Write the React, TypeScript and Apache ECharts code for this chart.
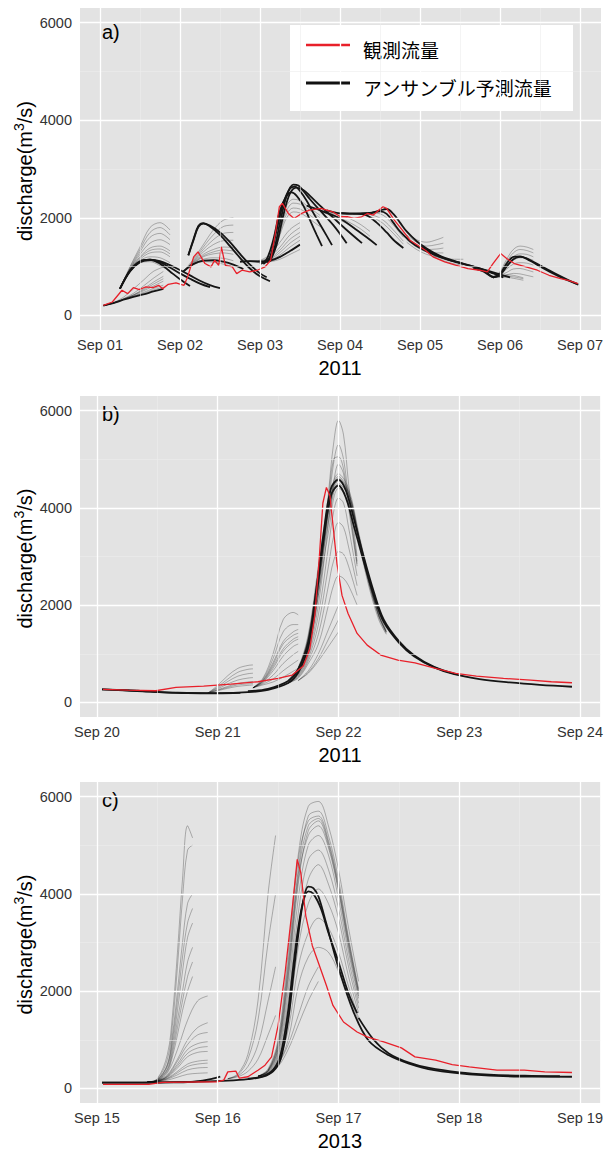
import React, { useEffect, useRef } from "react";
import * as echarts from "echarts";

// ---------------- axis / label data ----------------
const tickHoursA = [0, 24, 48, 72, 96, 120, 144];
const tickHoursBC = [0, 24, 48, 72, 96];
const minorHoursA = [12, 36, 60, 84, 108, 132];
const minorHoursBC = [12, 36, 60, 84];
const dayLabelsA = ["Sep 01", "Sep 02", "Sep 03", "Sep 04", "Sep 05", "Sep 06", "Sep 07"];
const dayLabelsB = ["Sep 20", "Sep 21", "Sep 22", "Sep 23", "Sep 24"];
const dayLabelsC = ["Sep 15", "Sep 16", "Sep 17", "Sep 18", "Sep 19"];
const yTicks = [0, 2000, 4000, 6000];
const yMinorTicks = [1000, 3000, 5000];
const yearLabels = ["2011", "2011", "2013"];
const panelTags = ["a)", "b)", "c)"];
const legendNames = ["観測流量", "アンサンブル予測流量"];

type Ens = { h: number[]; m: number[][] };

// ---------------- panel a (hours since Sep 01 00:00, 2011) ----------------
const obsA: number[][] = [
  [1, 205], [3.7, 274], [6.6, 514], [8.3, 445], [10, 568], [11.8, 527], [13.6, 582], [15.9, 568],
  [17.6, 616], [18.8, 548], [20.5, 637], [22.8, 664], [25.2, 616], [26.3, 788], [28.1, 1199],
  [29.4, 1301], [31.5, 1062], [33.3, 993], [34.4, 1130], [35.6, 1027], [36.4, 1404], [37.6, 1027],
  [39.7, 993], [41, 856], [42.6, 925], [44.9, 890], [47.2, 925], [49.5, 993], [51.2, 1130],
  [52.6, 1678], [53.8, 2226], [54.7, 2295], [56.5, 2089], [58.2, 1986], [60.5, 2089], [62.8, 2158],
  [66.3, 2192], [69.8, 2123], [72.1, 2021], [74.4, 2021], [76.2, 1986], [78.5, 2021], [80.2, 2089],
  [82, 2055], [83.7, 2158], [84.9, 2226], [86, 2192], [88.3, 1952], [90.7, 1747], [93, 1541],
  [95.3, 1438], [97.6, 1336], [99.9, 1199], [103.4, 1096], [106.9, 1027], [110.4, 959],
  [113.9, 925], [116.2, 890], [117.9, 1062], [120.2, 1267], [122, 1164], [124.3, 1062],
  [127.8, 993], [131.2, 925], [134.7, 822], [138.2, 753], [140.5, 719], [143.4, 651],
];

const blackA: number[][][] = [
  [[1, 200], [4, 250], [7, 320], [10, 380], [13, 430], [16, 490], [19, 545]],
  [[6, 548], [9, 920], [12, 1110], [15, 1140], [18, 1060], [21, 900], [24, 740], [27, 600]],
  [[6, 548], [9, 910], [12, 1100], [15, 1140], [18, 1090], [21, 980], [24, 860], [27, 750], [30, 650], [33, 577]],
  [[6, 548], [9, 900], [12, 1090], [15, 1135], [18, 1110], [21, 1030], [24, 930], [27, 820], [30, 710], [33, 620], [36, 557]],
  [[26.5, 1230], [28, 1550], [29.5, 1830], [31, 1890], [33, 1820], [36, 1650], [39, 1420], [42, 1180], [45, 960], [48, 800], [51, 700]],
  [[26.5, 1230], [28, 1530], [29.5, 1810], [31, 1880], [33, 1840], [36, 1700], [39, 1500], [42, 1260], [45, 1040], [48, 860], [50, 780]],
  [[25, 900], [28, 1050], [31, 1120], [34, 1130], [37, 1100], [40, 1040], [43, 950]],
  [[42, 1100], [45, 1110], [48, 1100], [51, 1120], [54, 1200], [57, 1320], [60, 1450]],
  [[48, 1050], [50, 1150], [52, 1550], [54, 2150], [56, 2450], [57.5, 2520], [59, 2450], [61, 2250], [63, 1950], [65, 1650], [66.6, 1420]],
  [[49, 1050], [51, 1200], [53, 1750], [55, 2300], [57, 2600], [58.5, 2640], [60, 2550], [62, 2350], [64, 2100], [67, 1750], [69.6, 1440]],
  [[50, 1080], [52, 1300], [54, 1900], [56, 2450], [58, 2680], [59.5, 2660], [61, 2550], [63, 2380], [66, 2150], [70, 1850], [74, 1480]],
  [[51, 1100], [53, 1450], [55, 2050], [57, 2500], [59, 2620], [61, 2570], [63, 2450], [66, 2250], [70, 2000], [74, 1750], [78.6, 1480]],
  [[62, 2250], [65, 2180], [68, 2100], [71, 2020], [74, 1900], [77, 1750], [80, 1600], [83, 1440]],
  [[68, 2150], [71, 2100], [74, 2080], [77, 2080], [80, 2050], [83, 1900], [86, 1700], [88, 1550], [91, 1380]],
  [[72, 2100], [75, 2090], [78, 2090], [81, 2100], [84, 2130], [86, 2080], [88, 1900], [90, 1720], [93, 1520], [96, 1380], [100, 1250], [104, 1150], [108, 1080]],
  [[78, 2080], [81, 2090], [84, 2150], [86, 2180], [88, 2080], [90, 1900], [92, 1720], [95, 1520], [98, 1370], [102, 1220], [106, 1120], [110, 1040], [114, 960], [118, 860], [121, 780]],
  [[96, 1420], [100, 1270], [104, 1150], [108, 1070], [112, 1000], [116, 920], [120, 840], [123, 780]],
  [[112, 970], [115, 900], [118, 790], [120, 850], [122, 1060], [124, 1200], [126, 1210], [129, 1120], [132, 1000], [135, 890], [138, 790], [141, 700], [143.5, 630]],
  [[116, 900], [118, 780], [120, 830], [122, 1000], [124, 1150], [126, 1200], [128, 1170], [131, 1060], [134, 950], [137, 840], [140, 740], [143, 650]],
];

const ensA: Ens[] = [
  { h: [1, 4, 7, 10, 13, 16, 19], m: [
    [200, 255, 340, 450, 600, 760, 900], [200, 255, 335, 420, 540, 680, 800], [200, 252, 330, 410, 500, 600, 700],
    [200, 250, 325, 395, 470, 550, 620], [200, 262, 370, 540, 720, 900, 990], [200, 250, 322, 388, 450, 520, 580],
    [200, 253, 332, 415, 520, 640, 750]] },
  { h: [6, 9, 12, 15, 18, 21], m: [
    [548, 1000, 1400, 1800, 1900, 1750], [548, 980, 1350, 1700, 1800, 1650], [548, 960, 1300, 1600, 1680, 1550],
    [548, 950, 1250, 1480, 1550, 1450], [548, 940, 1200, 1380, 1420, 1320], [548, 930, 1150, 1280, 1300, 1200],
    [548, 920, 1120, 1200, 1180, 1080], [548, 910, 1100, 1150, 1100, 980], [548, 900, 1080, 1100, 1020, 900],
    [548, 935, 1180, 1330, 1360, 1260]] },
  { h: [25, 28, 31, 34, 37, 40], m: [
    [900, 1150, 1450, 1750, 1950, 2000], [900, 1120, 1400, 1650, 1820, 1850], [900, 1100, 1350, 1550, 1680, 1700],
    [900, 1090, 1300, 1450, 1530, 1540], [900, 1080, 1250, 1350, 1400, 1390], [900, 1060, 1200, 1260, 1280, 1250],
    [900, 1050, 1150, 1180, 1170, 1120], [900, 1040, 1100, 1090, 1050, 1000], [900, 1070, 1220, 1300, 1340, 1320]] },
  { h: [42, 45, 48, 51, 54, 57, 60], m: [
    [1100, 1110, 1120, 1200, 1400, 1650, 1800], [1100, 1110, 1115, 1170, 1340, 1560, 1700],
    [1100, 1110, 1110, 1150, 1290, 1480, 1620], [1100, 1108, 1100, 1130, 1240, 1400, 1540],
    [1100, 1105, 1095, 1110, 1190, 1320, 1450], [1100, 1110, 1130, 1250, 1500, 1760, 1900],
    [1100, 1100, 1090, 1100, 1150, 1250, 1350]] },
  { h: [50, 52, 54, 56, 58, 60, 62, 64, 66], m: [
    [1100, 1300, 1750, 2150, 2300, 2280, 2200, 2100, 2000], [1100, 1280, 1700, 2080, 2200, 2180, 2100, 2000, 1900],
    [1100, 1260, 1650, 2000, 2120, 2100, 2020, 1920, 1820], [1100, 1350, 1850, 2250, 2380, 2350, 2250, 2150, 2050]] },
  { h: [66, 69, 72, 75, 78, 81], m: [
    [2150, 2050, 1950, 1850, 1700, 1550], [2150, 2080, 2000, 1900, 1780, 1620], [2150, 2100, 2050, 1980, 1870, 1720]] },
  { h: [76, 79, 82, 85, 88, 91], m: [
    [2080, 2080, 2050, 1950, 1750, 1520], [2080, 2060, 2000, 1880, 1680, 1460], [2080, 2100, 2100, 2050, 1850, 1600]] },
  { h: [92, 95, 98, 101, 103], m: [
    [1700, 1550, 1500, 1550, 1600], [1650, 1500, 1420, 1450, 1480], [1600, 1450, 1350, 1360, 1380],
    [1550, 1400, 1300, 1280, 1280], [1500, 1350, 1250, 1200, 1190]] },
  { h: [100, 103, 106, 109], m: [
    [1250, 1180, 1150, 1150], [1230, 1150, 1100, 1080], [1200, 1120, 1060, 1030]] },
  { h: [118, 120, 122, 124, 126, 128, 130], m: [
    [770, 900, 1150, 1350, 1420, 1400, 1350], [770, 880, 1100, 1280, 1350, 1330, 1280],
    [770, 860, 1050, 1200, 1260, 1250, 1200], [770, 850, 1000, 1130, 1180, 1170, 1130],
    [770, 840, 950, 1050, 1080, 1070, 1030], [770, 820, 880, 950, 960, 930, 890], [770, 800, 830, 860, 850, 820, 790]] },
  { h: [116, 118, 120, 122, 124, 127], m: [
    [880, 800, 790, 800, 790, 750], [880, 800, 800, 830, 820, 770], [880, 790, 780, 780, 760, 720]] },
];

// ---------------- panel b (hours since Sep 20 00:00, 2011) ----------------
const obsB: number[][] = [
  [1.2, 267], [6.2, 253], [11.7, 240], [15.7, 308], [21.2, 336], [26.6, 377], [32, 425], [36, 493],
  [38.8, 562], [41, 750], [42.3, 1100], [43.3, 1800], [44.2, 3000], [44.9, 4100], [45.6, 4420],
  [46.3, 4250], [47, 3550], [47.7, 2850], [48.7, 2200], [49.9, 1829], [51.7, 1418], [53.7, 1178],
  [56.4, 973], [59.8, 870], [63.2, 815], [67.3, 699], [71.3, 596], [75.4, 541], [80.8, 493],
  [86.2, 459], [90.3, 425], [94.4, 404],
];

const blackB: number[][][] = [
  [[1, 267], [6, 250], [12, 215], [18, 190], [24, 185], [28.5, 195]],
  [[1, 267], [8, 235], [16, 200], [24, 190], [30, 210], [34, 260], [38, 400], [40, 620], [42, 1150], [43.5, 2100], [45, 3300], [46.5, 4250], [48, 4460], [49.5, 4200], [51, 3650], [53, 2900], [55, 2200], [57, 1650], [60, 1230], [63, 950], [67, 720], [71, 580], [76, 480], [82, 410], [88, 360], [94.4, 322]],
  [[30, 230], [34, 280], [38, 440], [40, 680], [42, 1250], [43.5, 2250], [45, 3450], [46.5, 4400], [48, 4580], [49.5, 4350], [51, 3800], [53, 3000], [55, 2280], [57, 1700], [60, 1260], [63, 970], [67, 730], [71, 590]],
];

const ensB: Ens[] = [
  { h: [22, 24, 26, 28, 30, 31], m: [
    [190, 350, 550, 700, 760, 770], [190, 320, 480, 620, 680, 690], [190, 300, 430, 540, 590, 600],
    [190, 280, 380, 460, 500, 510], [190, 260, 330, 390, 420, 430], [190, 240, 290, 330, 350, 360],
    [190, 250, 310, 360, 380, 390]] },
  { h: [31, 33, 35, 37, 39, 40], m: [
    [300, 500, 1000, 1700, 1850, 1800], [300, 480, 900, 1450, 1600, 1600], [300, 460, 820, 1250, 1450, 1500],
    [300, 440, 740, 1100, 1300, 1350], [300, 420, 650, 950, 1150, 1200], [300, 400, 560, 800, 980, 1050],
    [300, 380, 480, 650, 800, 870], [300, 360, 420, 520, 640, 700], [300, 450, 780, 1200, 1380, 1420],
    [300, 430, 700, 1050, 1250, 1300]] },
  { h: [38, 40, 42, 44, 46, 48, 50, 52, 54, 56, 57.5], m: [
    [450, 700, 1300, 2600, 3900, 4600, 4300, 3400, 2500, 1800, 1450],
    [450, 720, 1400, 2800, 4100, 4700, 4400, 3500, 2600, 1850, 1480],
    [450, 680, 1200, 2400, 3700, 4500, 4250, 3350, 2450, 1750, 1420],
    [450, 650, 1100, 2200, 3500, 4400, 4200, 3300, 2400, 1700, 1400],
    [450, 700, 1350, 2700, 4000, 4650, 4350, 3450, 2550, 1800, 1450],
    [450, 690, 1250, 2500, 3800, 4550, 4300, 3400, 2480, 1780, 1440],
    [450, 710, 1320, 2650, 3950, 4620, 4320, 3420, 2520, 1790, 1460]] },
  { h: [38, 40, 42, 44, 46, 47, 48, 49, 50, 51.7], m: [
    [400, 600, 1100, 2400, 4300, 5300, 5800, 5500, 4500, 3000],
    [400, 600, 1050, 2200, 4000, 4900, 5300, 5000, 4200, 2900],
    [400, 580, 1000, 2000, 3700, 4500, 4900, 4700, 4000, 2800],
    [400, 560, 950, 1800, 3200, 3900, 4200, 4100, 3600, 2600],
    [400, 540, 900, 1600, 2800, 3400, 3700, 3600, 3200, 2400],
    [400, 520, 850, 1400, 2400, 2900, 3100, 3050, 2800, 2200],
    [400, 500, 800, 1200, 2000, 2400, 2600, 2550, 2400, 2000],
    [400, 590, 1080, 2300, 4150, 5000, 5050, 4800, 4100, 2850]] },
  { h: [40, 42, 44, 46, 48], m: [
    [450, 650, 1000, 1500, 2000], [450, 620, 900, 1300, 1700], [450, 600, 850, 1150, 1450]] },
];

// ---------------- panel c (hours since Sep 15 00:00, 2013) ----------------
const obsC: number[][] = [
  [1.2, 82], [10.3, 82], [13, 123], [23.9, 137], [25.2, 171], [26, 340], [27.6, 355], [28.3, 210],
  [30, 240], [32, 375], [33.4, 478], [34.7, 649], [36, 1297], [37.4, 2389], [38.8, 3686], [39.8, 4710],
  [40.5, 4437], [41.5, 3549], [42.8, 2935], [44.2, 2526], [45.6, 2116], [46.9, 1706], [49, 1365],
  [51.7, 1160], [53.7, 1058], [57, 956], [60.5, 833], [63.2, 648], [67.3, 580], [70.6, 491],
  [74, 444], [79.5, 375], [84.9, 375], [89, 341], [94.4, 327],
];

const blackC: number[][][] = [
  [[1, 120], [6, 120], [12, 122], [18, 130], [21, 160], [23, 200], [24.5, 240]],
  [[1, 120], [10, 120], [20, 140], [26, 160], [30, 190], [33, 240], [35, 350], [36.5, 600], [38, 1400], [39, 2300], [40, 3150], [41, 3850], [42, 4150], [43, 4120], [44, 3950], [45.5, 3420], [48, 2480], [51, 1570], [54, 980], [58, 680], [62, 510], [67, 375], [74, 290], [84, 245], [94.4, 240]],
  [[30, 200], [33, 250], [35, 380], [36.5, 700], [38, 1600], [39, 2500], [40, 3300], [41, 3850], [42, 4050], [43, 4000], [44.5, 3700], [46, 3200], [48, 2600], [50, 1950], [51.7, 1550]],
  [[52, 1450], [55, 1000], [58, 720], [62, 530], [66, 420], [72, 330], [78, 285], [85, 260], [92, 250]],
];

const ensC: Ens[] = [
  { h: [10, 12, 14, 15, 16, 17, 18, 19], m: [
    [130, 200, 700, 1500, 2800, 4300, 5400, 5150], [130, 190, 600, 1300, 2500, 3900, 4900, 5000],
    [130, 180, 500, 1100, 2000, 3000, 3800, 4000], [130, 170, 450, 900, 1600, 2400, 3100, 3400],
    [130, 170, 400, 800, 1400, 2000, 2600, 2900], [130, 160, 350, 650, 1100, 1600, 2000, 2300],
    [130, 165, 380, 720, 1250, 1800, 2300, 2600], [130, 175, 480, 1000, 1800, 2700, 3400, 3700]] },
  { h: [10, 12, 14, 16, 18, 20, 22], m: [
    [130, 160, 320, 800, 1400, 1800, 1900], [130, 160, 280, 600, 1000, 1250, 1350],
    [130, 150, 250, 500, 800, 920, 960], [130, 150, 230, 420, 650, 740, 760],
    [130, 150, 210, 350, 500, 560, 580], [130, 145, 190, 280, 380, 420, 430],
    [130, 140, 170, 230, 290, 310, 320], [130, 155, 260, 560, 900, 1100, 1150],
    [130, 152, 240, 460, 720, 830, 860], [130, 148, 200, 320, 450, 500, 520]] },
  { h: [26, 28, 30, 32, 34, 35.5], m: [
    [200, 300, 700, 1800, 4000, 5200], [200, 280, 600, 1400, 3000, 4000],
    [200, 260, 450, 900, 1800, 2500], [200, 240, 350, 600, 1100, 1500]] },
  { h: [32, 34, 36, 38, 40, 42, 44, 46, 48, 50, 52], m: [
    [250, 400, 1000, 2800, 4800, 5800, 5900, 5400, 4500, 3300, 2200],
    [250, 380, 900, 2500, 4500, 5600, 5700, 5200, 4300, 3100, 2050],
    [250, 360, 800, 2200, 4200, 5300, 5500, 5000, 4100, 2950, 1950],
    [250, 350, 750, 2000, 3900, 5000, 5200, 4800, 3900, 2800, 1850],
    [250, 340, 700, 1800, 3600, 4700, 4900, 4500, 3700, 2650, 1750],
    [250, 330, 650, 1600, 3300, 4300, 4600, 4200, 3500, 2500, 1650],
    [250, 320, 600, 1400, 2900, 3800, 4100, 3800, 3200, 2300, 1550],
    [250, 310, 550, 1200, 2500, 3200, 3500, 3300, 2800, 2100, 1450],
    [250, 300, 500, 1000, 2100, 2700, 2900, 2800, 2400, 1900, 1400],
    [250, 370, 950, 2600, 4700, 5500, 5600, 5100, 4200, 3050, 2000],
    [250, 365, 880, 2400, 4400, 5400, 5550, 5050, 4150, 3000, 1980],
    [250, 355, 820, 2300, 4300, 5200, 5400, 4950, 4050, 2900, 1900]] },
  { h: [34, 36, 38, 40, 42, 44], m: [
    [300, 500, 900, 1500, 2100, 2500], [300, 450, 800, 1300, 1800, 2200]] },
];

const FONT = "'Liberation Sans', Arial, sans-serif";
const CJK = "'Noto Sans CJK JP', sans-serif";

export default function App() {
  const ref = useRef<HTMLDivElement>(null);

  useEffect(() => {
    if (!ref.current) return;
    const chart = echarts.init(ref.current, undefined, { renderer: "svg" });

    const panels = [
      { obs: obsA, black: blackA, ens: ensA, ticks: tickHoursA, minor: minorHoursA, labels: dayLabelsA, xMin: -6, xMax: 150.3, top: 8, height: 322, tagY: 32 },
      { obs: obsB, black: blackB, ens: ensB, ticks: tickHoursBC, minor: minorHoursBC, labels: dayLabelsB, xMin: -3.37, xMax: 100, top: 396, height: 321, tagY: 414 },
      { obs: obsC, black: blackC, ens: ensC, ticks: tickHoursBC, minor: minorHoursBC, labels: dayLabelsC, xMin: -3.37, xMax: 100, top: 782, height: 321, tagY: 800 },
    ];

    const majorStyle = { color: "#ffffff", width: 1.3, type: "solid" as const };
    const minorStyle = { color: "#ececec", width: 0.6, type: "solid" as const };

    const grids: any[] = [];
    const xAxes: any[] = [];
    const yAxes: any[] = [];
    const series: any[] = [];
    const graphic: any[] = [];

    panels.forEach((p, i) => {
      grids.push({ left: 80, width: 521, top: p.top, height: p.height, show: true, backgroundColor: "#e3e3e3", borderWidth: 0 });
      xAxes.push({
        gridIndex: i, type: "value", min: p.xMin, max: p.xMax,
        axisLine: { show: false },
        axisTick: { show: true, length: 5, customValues: p.ticks, lineStyle: { color: "#333", width: 1 } },
        axisLabel: {
          customValues: p.ticks, margin: 7, fontSize: 14.5, color: "#333", fontFamily: FONT,
          formatter: (v: number) => { const k = p.ticks.indexOf(v); return k >= 0 ? p.labels[k] : ""; },
        },
        splitLine: { show: false },
      });
      yAxes.push({
        gridIndex: i, type: "value", min: -300, max: 6300,
        axisLine: { show: false },
        axisTick: { show: true, length: 5, customValues: yTicks, lineStyle: { color: "#333", width: 1 } },
        axisLabel: { customValues: yTicks, margin: 8, fontSize: 14.5, color: "#333", fontFamily: FONT, formatter: (v: number) => String(v) },
        splitLine: { show: false },
      });

      // grid lines
      series.push({
        type: "line", xAxisIndex: i, yAxisIndex: i, z: 1, silent: true,
        data: [[p.xMin, -300]], showSymbol: false, lineStyle: { opacity: 0 },
        markLine: {
          silent: true, symbol: ["none", "none"], label: { show: false }, animation: false,
          emphasis: { disabled: true },
          data: [
            ...p.minor.map((h) => ({ xAxis: h, lineStyle: minorStyle })),
            ...yMinorTicks.map((v) => ({ yAxis: v, lineStyle: minorStyle })),
            ...p.ticks.map((h) => ({ xAxis: h, lineStyle: majorStyle })),
            ...yTicks.map((v) => ({ yAxis: v, lineStyle: majorStyle })),
          ],
        },
      });

      // ensemble members
      p.ens.forEach((g) => {
        g.m.forEach((vals) => {
          series.push({
            type: "line", xAxisIndex: i, yAxisIndex: i, z: 2, silent: true, showSymbol: false,
            smooth: 0.35, data: g.h.map((h, k) => [h, vals[k]]),
            lineStyle: { color: "rgba(0,0,0,0.27)", width: 1 },
          });
        });
      });
      // ensemble mean / control lines
      p.black.forEach((line) => {
        series.push({
          type: "line", xAxisIndex: i, yAxisIndex: i, z: 3, silent: true, showSymbol: false,
          smooth: 0.35, data: line, lineStyle: { color: "#151515", width: 1.8 },
        });
      });
      // observed
      series.push({
        type: "line", xAxisIndex: i, yAxisIndex: i, z: 4, silent: true, showSymbol: false,
        data: p.obs, lineStyle: { color: "#e8202a", width: 1.3 },
      });

      // titles
      graphic.push({
        type: "text", x: 25, y: p.top + p.height / 2 + 2, rotation: Math.PI / 2,
        style: {
          text: "discharge(m{s|3}/s)", fontSize: 20, fontFamily: FONT, fill: "#000",
          align: "center", verticalAlign: "middle", lineHeight: 26,
          rich: { s: { fontSize: 14, fontFamily: FONT, verticalAlign: "top", lineHeight: 14, fill: "#000" } },
        },
      });
      graphic.push({
        type: "text", x: 340, y: p.top + p.height + 38,
        style: { text: yearLabels[i], fontSize: 20, fontFamily: FONT, fill: "#000", align: "center", verticalAlign: "middle" },
      });
      graphic.push({
        type: "text", x: 102, y: p.tagY,
        style: { text: panelTags[i], fontSize: 20, fontFamily: FONT, fill: "#000", align: "left", verticalAlign: "middle" },
      });
    });

    // legend (panel a)
    graphic.push({ type: "rect", shape: { x: 290, y: 25, width: 283, height: 86 }, style: { fill: "#ffffff" } });
    graphic.push({ type: "line", shape: { x1: 306, y1: 45, x2: 350, y2: 45 }, style: { stroke: "#e8202a", lineWidth: 2.5 } });
    graphic.push({ type: "line", shape: { x1: 306, y1: 83, x2: 350, y2: 83 }, style: { stroke: "#111", lineWidth: 3 } });
    graphic.push({ type: "text", x: 363, y: 49, style: { text: legendNames[0], fontSize: 19, fontFamily: CJK, fill: "#000", align: "left", verticalAlign: "middle" } });
    graphic.push({ type: "text", x: 363, y: 87, style: { text: legendNames[1], fontSize: 19, fontFamily: CJK, fill: "#000", align: "left", verticalAlign: "middle" } });

    chart.setOption({
      animation: false,
      backgroundColor: "#ffffff",
      grid: grids,
      xAxis: xAxes,
      yAxis: yAxes,
      series,
      graphic,
    });

    return () => chart.dispose();
  }, []);

  return <div ref={ref} style={{ position: "absolute", left: 0, top: 0, width: 606, height: 1153 }} />;
}
